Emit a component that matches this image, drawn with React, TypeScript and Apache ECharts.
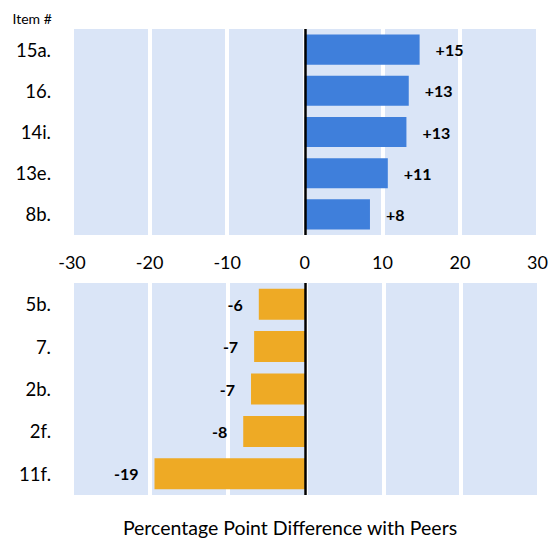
import React, { useEffect, useRef } from "react";
import * as echarts from "echarts";

const topCategories = ["15a.", "16.", "14i.", "13e.", "8b."];
const topValues = [14.8, 13.4, 13.1, 10.7, 8.4];
const bottomCategories = ["5b.", "7.", "2b.", "2f.", "11f."];
const bottomValues = [-6.0, -6.6, -7.0, -8.0, -19.4];
const axisMin = -30;
const axisMax = 30;
const axisInterval = 10;
const itemTitle = "Item #";
const axisTitle = "Percentage Point Difference with Peers";

const FONT = "Lato";
const BG = "#DAE5F7";
const BLUE = "#3F7FDB";
const ORANGE = "#EEAA25";

export default function App() {
  const ref = useRef<HTMLDivElement>(null);
  useEffect(() => {
    document.body.style.margin = "0";
    if (!ref.current) return;
    const chart = echarts.init(ref.current, undefined, { renderer: "svg" });
    const fmt = (p: any) => {
      const v = Math.round(p.value);
      return v > 0 ? "+" + v : String(v);
    };
    const xAxisBase = (showLabels: boolean, gridIndex: number) => ({
      type: "value" as const,
      gridIndex,
      min: axisMin,
      max: axisMax,
      interval: axisInterval,
      axisLine: { show: false },
      axisTick: { show: false },
      axisLabel: {
        show: showLabels,
        fontFamily: FONT,
        fontSize: 18,
        color: "#000",
        margin: 18,
      },
      splitLine: { show: true, lineStyle: { color: "#ffffff", width: 4 } },
    });
    const yAxisBase = (cats: string[], gridIndex: number) => ({
      type: "category" as const,
      gridIndex,
      data: cats,
      inverse: true,
      axisLine: { show: false },
      axisTick: { show: false },
      axisLabel: { fontFamily: FONT, fontSize: 18.5, color: "#000", margin: 21 },
      splitLine: { show: false },
    });
    const zeroLine = {
      silent: true,
      symbol: "none",
      label: { show: false },
      lineStyle: { color: "#000", width: 2.5, type: "solid" as const },
      data: [{ xAxis: 0 }],
    };
    const barLabel = (position: "left" | "right") => ({
      show: true,
      position,
      distance: 16,
      formatter: fmt,
      fontFamily: FONT,
      fontWeight: "bold" as const,
      fontSize: 16,
      color: "#000",
    });
    chart.setOption({
      animation: false,
      grid: [
        { left: 72, right: 12, top: 29, height: 206, show: true, backgroundColor: BG, borderWidth: 0 },
        { left: 72, right: 12, top: 283, height: 212, show: true, backgroundColor: BG, borderWidth: 0 },
      ],
      xAxis: [xAxisBase(true, 0), xAxisBase(false, 1)],
      yAxis: [yAxisBase(topCategories, 0), yAxisBase(bottomCategories, 1)],
      graphic: [
        {
          type: "text",
          x: 12.5,
          y: 18,
          style: { text: itemTitle, fontFamily: FONT, fontSize: 14, fill: "#000", verticalAlign: "middle" },
        },
        {
          type: "text",
          x: 290,
          y: 527,
          style: {
            text: axisTitle,
            fontFamily: FONT,
            fontSize: 19.5,
            fill: "#000",
            align: "center",
            verticalAlign: "middle",
          },
        },
      ],
      series: [
        {
          type: "bar",
          xAxisIndex: 0,
          yAxisIndex: 0,
          data: topValues,
          barCategoryGap: "27%",
          itemStyle: { color: BLUE },
          label: barLabel("right"),
          markLine: zeroLine,
        },
        {
          type: "bar",
          xAxisIndex: 1,
          yAxisIndex: 1,
          data: bottomValues,
          barCategoryGap: "27%",
          itemStyle: { color: ORANGE },
          label: barLabel("left"),
          markLine: zeroLine,
        },
      ],
    });
    return () => chart.dispose();
  }, []);
  return <div ref={ref} style={{ width: 551, height: 541 }} />;
}
